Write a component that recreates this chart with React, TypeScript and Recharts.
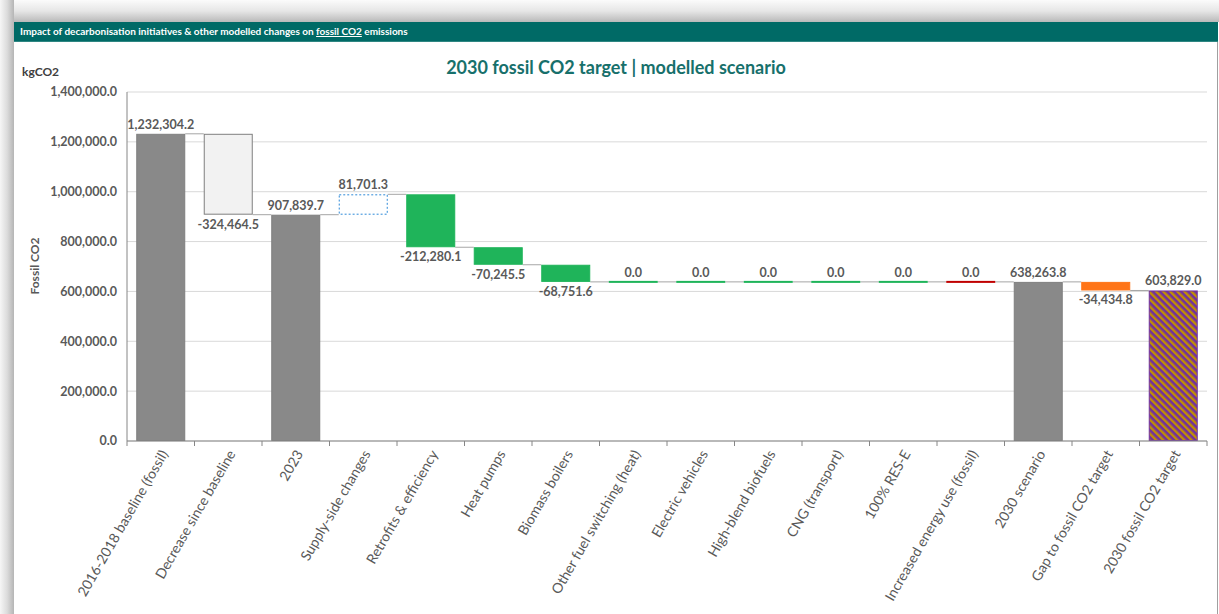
import { Bar, BarChart, CartesianGrid, XAxis, YAxis } from 'recharts'

const categories = [
  '2016-2018 baseline (fossil)',
  'Decrease since baseline',
  '2023',
  'Supply-side changes',
  'Retrofits & efficiency',
  'Heat pumps',
  'Biomass boilers',
  'Other fuel switching (heat)',
  'Electric vehicles',
  'High-blend biofuels',
  'CNG (transport)',
  '100% RES-E',
  'Increased energy use (fossil)',
  '2030 scenario',
  'Gap to fossil CO2 target',
  '2030 fossil CO2 target',
]

const values = [
  1232304.2, -324464.5, 907839.7, 81701.3, -212280.1, -70245.5, -68751.6, 0, 0, 0, 0, 0, 0, 638263.8,
  -34434.8, 603829.0,
]

// totals start from zero, the rest step from the running total
const isTotal = [true, false, true, false, false, false, false, false, false, false, false, false, false, true, false, true]

const barKinds = [
  'total', 'decrease', 'total', 'supply', 'green', 'green', 'green', 'green', 'green', 'green', 'green', 'green',
  'red', 'total', 'gap', 'target',
]

const yTicks = [0, 200000, 400000, 600000, 800000, 1000000, 1200000, 1400000]

const CHART_W = 1204
const CHART_H = 572
const MARGIN = { top: 50, right: 11, left: 0, bottom: 0 }
const Y_AXIS_W = 113
const X_AXIS_H = 173
const PLOT_W = CHART_W - MARGIN.left - MARGIN.right - Y_AXIS_W
const BAND = PLOT_W / categories.length

const TEXT = '#595959'
const FONT = 'Lato, "Open Sans", sans-serif'

const kindStyle: Record<string, { fill: string; stroke?: string; dash?: string }> = {
  total: { fill: '#898989', stroke: '#7f7f7f' },
  decrease: { fill: '#f2f2f2', stroke: '#7f7f7f' },
  supply: { fill: '#ffffff', stroke: '#2e8ad8', dash: '2 2' },
  green: { fill: '#1fb45a' },
  red: { fill: '#c00000' },
  gap: { fill: '#ff7518' },
  target: { fill: 'url(#hatch)', stroke: '#7030a0' },
}

let running = 0
const rows = categories.map((name, i) => {
  const v = values[i]
  let low = 0
  let high = v
  let endTop = true
  if (isTotal[i]) {
    running = v
  } else {
    const start = running
    running = start + v
    low = Math.min(start, running)
    high = Math.max(start, running)
    endTop = v >= 0
  }
  return { name, value: v, range: [low, high], endTop, kind: barKinds[i], idx: i }
})

const fmt = (v: number) => v.toLocaleString('en-US', { minimumFractionDigits: 1, maximumFractionDigits: 1 })

function StepBar(props: any) {
  const { x, y, width, height, payload } = props
  const top = Math.min(y, y + height)
  const bottom = Math.max(y, y + height)
  const st = kindStyle[payload.kind]
  const flat = bottom - top < 1
  const connY = payload.endTop ? top : bottom
  const last = payload.idx === categories.length - 1
  const below = payload.value < 0
  return (
    <g>
      {payload.kind === 'target' && (
        <defs>
          <pattern id="hatch" width="5" height="5" patternUnits="userSpaceOnUse" patternTransform="rotate(-45)">
            <rect width="5" height="5" fill="#7030a0" />
            <rect width="2.4" height="5" fill="#c29100" />
          </pattern>
        </defs>
      )}
      {!last && <line x1={x + width} x2={x + BAND} y1={connY} y2={connY} stroke="#a6a6a6" strokeWidth={1} />}
      {flat ? (
        <rect x={x} y={top - 1} width={width} height={2} fill={st.fill} />
      ) : (
        <rect
          x={x + 0.5}
          y={top + 0.5}
          width={width - 1}
          height={bottom - top - 1}
          fill={st.fill}
          stroke={st.stroke ?? st.fill}
          strokeDasharray={st.dash}
        />
      )}
      <text
        x={x + width / 2}
        y={below ? bottom + 14 : top - 5}
        textAnchor="middle"
        fill={TEXT}
        fontSize={12.5}
        fontWeight={700}
        fontFamily={FONT}
      >
        {fmt(payload.value)}
      </text>
    </g>
  )
}

function CategoryTick(props: any) {
  const { x, y, payload, index } = props
  const left = x - BAND / 2
  return (
    <g>
      <line x1={left} x2={left} y1={y} y2={y + 5} stroke="#868686" />
      {index === categories.length - 1 && <line x1={x + BAND / 2} x2={x + BAND / 2} y1={y} y2={y + 5} stroke="#868686" />}
      <text
        x={x + 3}
        y={y + 10}
        transform={`rotate(-60, ${x + 3}, ${y + 10})`}
        textAnchor="end"
        dominantBaseline="central"
        fill={TEXT}
        fontSize={14}
        fontFamily={FONT}
      >
        {payload.value}
      </text>
    </g>
  )
}

export default function App() {
  return (
    <div style={{ position: 'absolute', left: 0, top: 0, width: 1219, height: 614, background: '#fff', overflow: 'hidden', fontFamily: FONT }}>
      <div style={{ position: 'absolute', left: 0, top: 0, width: 1219, height: 22, background: 'linear-gradient(#fbfbfb, #e6e6e6 50%, #b9b9b9)' }} />
      <div style={{ position: 'absolute', left: 0, top: 0, width: 14, height: 614, background: 'linear-gradient(to right, #f6f6f6, #dcdcdc 50%, #b5b5b5)' }} />
      <div style={{ position: 'absolute', left: 14, top: 22, width: 1203, height: 592, background: '#fff', borderRight: '1px solid #a0a0a0' }} />
      <div
        style={{
          position: 'absolute',
          left: 14,
          top: 22,
          width: 1204,
          height: 20,
          background: '#006a66',
          borderBottom: '1px solid #2f8682',
          boxSizing: 'border-box',
          color: '#fff',
          fontSize: 10,
          fontWeight: 700,
          lineHeight: '19px',
          paddingLeft: 6,
        }}
      >
        Impact of decarbonisation initiatives &amp; other modelled changes on <u>fossil CO2</u> emissions
      </div>
      <div style={{ position: 'absolute', left: 14, top: 56, width: 1204, textAlign: 'center', color: '#17706b', fontSize: 18, fontWeight: 700 }}>
        2030 fossil CO2 target | modelled scenario
      </div>
      <div style={{ position: 'absolute', left: 22, top: 64, color: '#404040', fontSize: 12, fontWeight: 700 }}>kgCO2</div>
      <div
        style={{
          position: 'absolute',
          left: 34,
          top: 266,
          transform: 'translate(-50%, -50%) rotate(-90deg)',
          color: TEXT,
          fontSize: 12,
          fontWeight: 700,
          whiteSpace: 'nowrap',
        }}
      >
        Fossil CO2
      </div>
      <div style={{ position: 'absolute', left: 14, top: 42 }}>
        <BarChart width={CHART_W} height={CHART_H} data={rows} margin={MARGIN} barCategoryGap="13.7%">
          <CartesianGrid vertical={false} stroke="#d9d9d9" />
          <XAxis
            dataKey="name"
            interval={0}
            height={X_AXIS_H}
            tickLine={false}
            tickSize={0}
            tickMargin={0}
            axisLine={{ stroke: '#868686' }}
            tick={<CategoryTick />}
          />
          <YAxis
            width={Y_AXIS_W}
            domain={[0, 1400000]}
            ticks={yTicks}
            tickFormatter={fmt}
            tickLine={false}
            tickMargin={4}
            axisLine={{ stroke: '#868686' }}
            tick={{ fill: TEXT, fontSize: 12.5, fontWeight: 700, fontFamily: FONT }}
          />
          <Bar dataKey="range" isAnimationActive={false} shape={<StepBar />} />
        </BarChart>
      </div>
    </div>
  )
}
